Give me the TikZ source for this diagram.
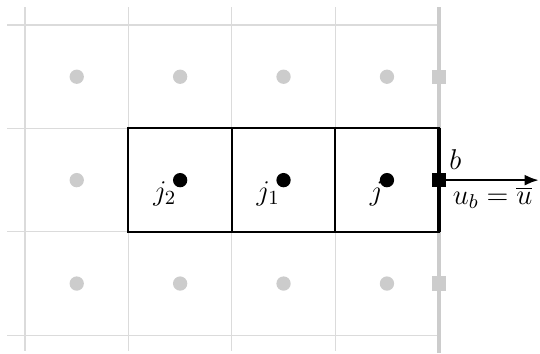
\documentclass[tikz,border=0pt]{standalone}
\usepackage{fix-cm}
\usepackage{amsmath}
\usetikzlibrary{arrows.meta}

\begin{document}
\begin{tikzpicture}[x=1.65cm,y=1.65cm,font=\fontsize{13}{16}\selectfont,
    gridline/.style={draw=gray!28,line width=0.5pt},
    ghost node/.style={circle,fill=gray!40,inner sep=0pt,minimum size=6.5pt},
    cell node/.style={circle,fill=black,inner sep=0pt,minimum size=6.5pt},
    ghost face/.style={rectangle,fill=gray!40,inner sep=0pt,minimum size=6.5pt},
    face node/.style={rectangle,fill=black,inner sep=0pt,minimum size=6.5pt}]
    \useasboundingbox (-0.242,0.242) rectangle (4.98,-3.172);
    % background grid
    \foreach \y in {0,...,3}
      \draw [gridline] (-0.17,-\y) -- (4,-\y);
    \foreach \x in {0,...,3}
      \draw [gridline] (\x,0.17) -- (\x,-3.15);
    \draw [draw=gray!40,line width=1.8pt] (4,0.17) -- (4,-3.17);
    % ghost cells
    \foreach \x in {0,...,3} {
      \node at (\x+0.5,-0.5) [ghost node] (g0\x) {};
      \node at (\x+0.5,-2.5) [ghost node] (g2\x) {};
    }
    \node at (0.5,-1.5) [ghost node] (g10) {};
    \node at (4,-0.5) [ghost face] (f0) {};
    \node at (4,-2.5) [ghost face] (f2) {};
    % stencil cells
    \draw [line width=0.9pt] (1,-1) rectangle (4,-2);
    \draw [line width=0.9pt] (2,-1) -- (2,-2);
    \draw [line width=0.9pt] (3,-1) -- (3,-2);
    \draw [line width=1.8pt] (4,-1) -- (4,-2);
    \node at (1.5,-1.5) [cell node,label={[label distance=-6pt,yshift=1pt]below left:$j_2$}] (j2) {};
    \node at (2.5,-1.5) [cell node,label={[label distance=-6pt,yshift=1pt]below left:$j_1$}] (j1) {};
    \node at (3.5,-1.5) [cell node,label={[label distance=-6pt,yshift=1pt]below left:$j$}] (j) {};
    \node at (4,-1.5) [face node,label={[label distance=-3pt]above right:$b$}] (b) {};
    \coordinate (ub) at (4.97,-1.5);
    \draw [-{Latex[length=6.5pt,width=5pt]},line width=1.2pt] (b) -- (ub)
      node [midway,below,yshift=1pt] {$u_b=\overline{u}$};
\end{tikzpicture}
\end{document}
